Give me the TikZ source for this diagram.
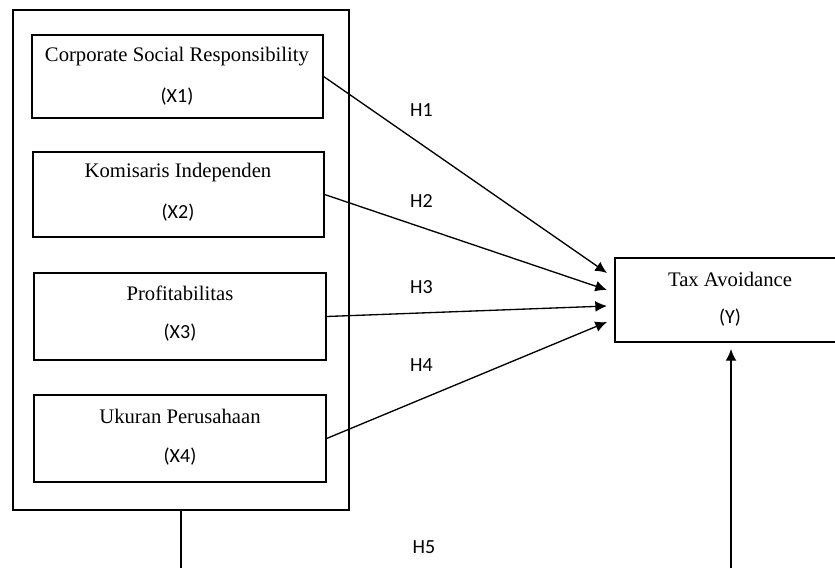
\documentclass[tikz,border=0pt]{standalone}
\usepackage{fontspec}
\setmainfont{Liberation Serif}
\newfontfamily\calibrifont{Carlito}
\usetikzlibrary{arrows.meta}
\begin{document}
\begin{tikzpicture}[x=0.6pt,y=-0.6pt,
  varbox/.style={draw=black,line width=0.75pt,rectangle,inner sep=0pt},
  nametext/.style={font=\fontsize{12.4}{14}\selectfont,inner sep=0pt},
  codetext/.style={font=\calibrifont\fontsize{12}{14}\selectfont,inner sep=0pt},
  hlabel/.style={font=\calibrifont\fontsize{12}{14}\selectfont,inner sep=0pt},
  arrowline/.style={line width=0.8pt,-{Latex[length=7pt,width=6.5pt]}},
  plainline/.style={line width=0.8pt}]
\useasboundingbox (0,0) rectangle (835,568);
% outer box
\node[varbox,minimum width=336*0.6pt,minimum height=500*0.6pt] (outer) at (181,260) {};
% variable boxes
\node[varbox,minimum width=291*0.6pt,minimum height=83*0.6pt] (b1) at (177.5,76.5) {};
\node[varbox,minimum width=291*0.6pt,minimum height=85*0.6pt] (b2) at (178.5,194.5) {};
\node[varbox,minimum width=292*0.6pt,minimum height=87*0.6pt] (b3) at (180,316.5) {};
\node[varbox,minimum width=292*0.6pt,minimum height=87*0.6pt] (b4) at (180,438.5) {};
\node[varbox,minimum width=222*0.6pt,minimum height=84*0.6pt] (ty) at (726,300) {};
% texts
\node[nametext] (t1a) at (177,57) {Corporate Social Responsibility};
\node[codetext] (t1b) at (177,97) {(X1)};
\node[nametext] (t2a) at (178,173) {Komisaris Independen};
\node[codetext] (t2b) at (178,213) {(X2)};
\node[nametext] (t3a) at (180,293) {Profitabilitas};
\node[codetext] (t3b) at (180,333) {(X3)};
\node[nametext] (t4a) at (180,416) {Ukuran Perusahaan};
\node[codetext] (t4b) at (180,457) {(X4)};
\node[nametext] (tya) at (730,279) {Tax Avoidance};
\node[codetext] (tyb) at (730,318) {(Y)};
% labels
\node[hlabel] (h1) at (421.5,110) {H1};
\node[hlabel] (h2) at (421.5,201) {H2};
\node[hlabel] (h3) at (421.5,287) {H3};
\node[hlabel] (h4) at (421.5,365) {H4};
\node[hlabel] (h5) at (424,547) {H5};
% arrow targets
\coordinate (e1) at (607,273);
\coordinate (e2) at (607,290);
\coordinate (e3) at (607,306);
\coordinate (e4) at (607,322);
\coordinate (e5) at (731,349);
\coordinate (s5) at (731,568);
\coordinate (l5) at (181,568);
\draw[arrowline] (b1.east) -- (e1);
\draw[arrowline] (b2.east) -- (e2);
\draw[arrowline] (b3.east) -- (e3);
\draw[arrowline] (b4.east) -- (e4);
\draw[arrowline] (s5) -- (e5);
\draw[plainline] (outer.south) -- (l5);
\end{tikzpicture}
\end{document}
